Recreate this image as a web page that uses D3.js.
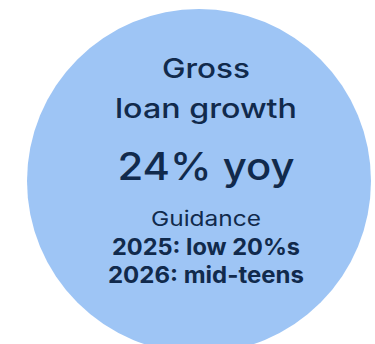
<!DOCTYPE html>
<html>
<head>
<meta charset="utf-8">
<script src="https://cdn.jsdelivr.net/npm/d3@7"></script>
<style>
  html, body { margin: 0; padding: 0; background: #ffffff; }
  svg { display: block; }
</style>
</head>
<body>
<svg id="chart" width="375" height="344"></svg>
<script>
// Headline metric and the text blocks shown inside the bubble
const titleLines = ["Gross", "loan growth"];
const growthValue = [24];
const growthUnit = ["% yoy"];
const guidanceHeader = ["Guidance"];
const guidanceLines = ["2025: low 20%s", "2026: mid-teens"];

const svg = d3.select("#chart");
const ink = "#112a4c";
const font = "Inter, 'Noto Sans', sans-serif";

// Bubble
svg.append("circle")
  .attr("cx", 199)
  .attr("cy", 181)
  .attr("r", 172)
  .attr("fill", "#9ec5f5");

// Text rows: content, baseline, target width, weight, size
const rows = [
  { text: titleLines[0], y: 78, w: 88, weight: 500, size: 27 },
  { text: titleLines[1], y: 118, w: 182, weight: 500, size: 27 },
  { text: growthValue[0] + growthUnit[0], y: 180, w: 177, weight: 500, size: 38 },
  { text: guidanceHeader[0], y: 226, w: 110, weight: 400, size: 20.5 },
  { text: guidanceLines[0], y: 255, w: 188, weight: 700, size: 22.5 },
  { text: guidanceLines[1], y: 283, w: 196, weight: 700, size: 22.5 }
];

const cx = 206;
svg.selectAll("text.row")
  .data(rows)
  .join("text")
  .attr("class", "row")
  .attr("x", cx)
  .attr("y", d => d.y)
  .attr("text-anchor", "middle")
  .attr("fill", ink)
  .attr("font-family", font)
  .attr("font-weight", d => d.weight)
  .attr("font-size", d => d.size)
  .attr("textLength", d => d.w)
  .attr("lengthAdjust", "spacingAndGlyphs")
  .text(d => d.text);
</script>
</body>
</html>
